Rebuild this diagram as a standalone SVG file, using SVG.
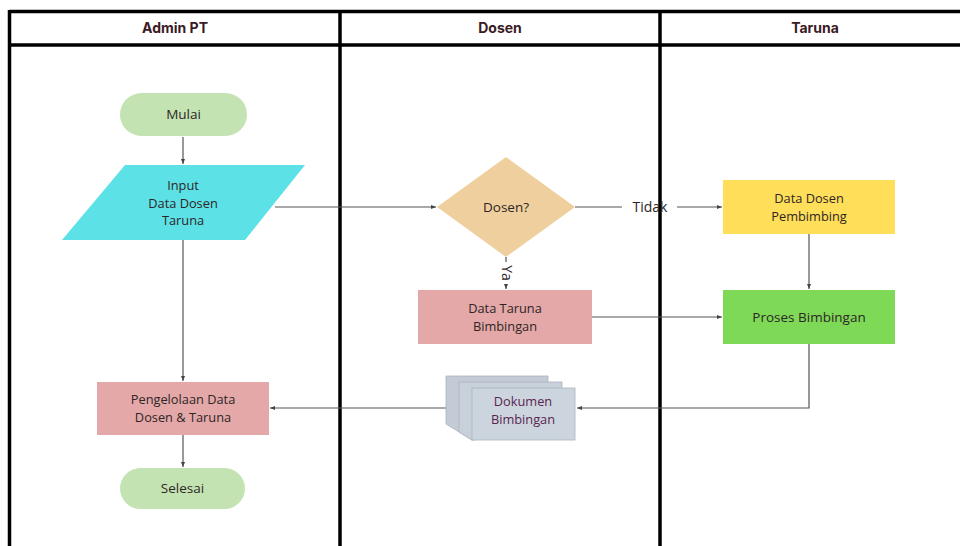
<svg xmlns="http://www.w3.org/2000/svg" width="960" height="546" viewBox="0 0 960 546">
<style>
.lane{stroke:#000;stroke-width:3.5;fill:none}
.hdr{font-family:"Inter","Liberation Sans",sans-serif;font-weight:700;font-size:14px;fill:#3b1a26;text-anchor:middle}
.t{font-family:"Open Sans","Liberation Sans",sans-serif;font-size:12.8px;fill:#2e2626;text-anchor:middle}
.d{font-family:"Open Sans","Liberation Sans",sans-serif;font-size:12.8px;fill:#5a2450;text-anchor:middle}
.c{stroke:#555;stroke-width:1.2;fill:none}
</style>
<defs>
<marker id="ah" markerWidth="6" markerHeight="6" refX="5" refY="3" orient="auto" markerUnits="userSpaceOnUse">
<path d="M0,1 L5,3 L0,5 z" fill="#444"/>
</marker>
</defs>
<rect width="960" height="546" fill="#fff"/>
<g id="lanes">
<line class="lane" x1="9.5" y1="11.5" x2="960" y2="11.5"/>
<line class="lane" x1="9.5" y1="45" x2="960" y2="45"/>
<line class="lane" x1="9.5" y1="10" x2="9.5" y2="546"/>
<line class="lane" x1="340" y1="10" x2="340" y2="546"/>
<line class="lane" x1="660" y1="10" x2="660" y2="546"/>
<text class="hdr" x="175" y="33">Admin PT</text>
<text class="hdr" x="500" y="33">Dosen</text>
<text class="hdr" x="815" y="33">Taruna</text>
</g>
<g id="connectors">
<line class="c" x1="183" y1="137" x2="183" y2="164" marker-end="url(#ah)"/>
<line class="c" x1="275" y1="207" x2="436" y2="207" marker-end="url(#ah)"/>
<line class="c" x1="575" y1="207" x2="622" y2="207"/>
<line class="c" x1="677" y1="207" x2="722" y2="207" marker-end="url(#ah)"/>
<text class="t" x="650" y="212" style="font-size:14px">Tidak</text>
<line class="c" x1="506" y1="257" x2="506" y2="262"/>
<line class="c" x1="506" y1="284" x2="506" y2="289" marker-end="url(#ah)"/>
<text class="t" x="506" y="273" transform="rotate(90 506 273)" dy="4" style="font-size:14px">Ya</text>
<line class="c" x1="809" y1="234" x2="809" y2="289" marker-end="url(#ah)"/>
<line class="c" x1="592" y1="317" x2="722" y2="317" marker-end="url(#ah)"/>
<polyline class="c" points="809,344 809,408 577,408" marker-end="url(#ah)"/>
<line class="c" x1="446" y1="408" x2="270" y2="408" marker-end="url(#ah)"/>
<line class="c" x1="183" y1="240" x2="183" y2="381" marker-end="url(#ah)"/>
<line class="c" x1="183" y1="435" x2="183" y2="467" marker-end="url(#ah)"/>
</g>
<g id="mulai">
<rect x="120" y="93" width="127" height="43" rx="21.5" fill="#c4e3b3"/>
<text class="t" x="183.5" y="119" style="font-size:13.5px">Mulai</text>
</g>
<g id="input">
<polygon points="125,165 305,165 245,240 62,240" fill="#5ce1e6"/>
<text class="t" x="183" y="190">Input</text>
<text class="t" x="183" y="207.5">Data Dosen</text>
<text class="t" x="183" y="225">Taruna</text>
</g>
<g id="dosen">
<polygon points="506,157 575,207 506,257 437,207" fill="#f0cf9e"/>
<text class="t" x="506" y="212" style="font-size:13.5px">Dosen?</text>
</g>
<g id="datadosen">
<rect x="723" y="180" width="172" height="54" fill="#ffde59"/>
<text class="t" x="809" y="203">Data Dosen</text>
<text class="t" x="809" y="220.5">Pembimbing</text>
</g>
<g id="datataruna">
<rect x="418" y="290" width="174" height="54" fill="#e4a8a8"/>
<text class="t" x="505" y="313">Data Taruna</text>
<text class="t" x="505" y="330.5">Bimbingan</text>
</g>
<g id="proses">
<rect x="723" y="290" width="172" height="54" fill="#7ed957"/>
<text class="t" x="809" y="322" style="font-size:13.5px">Proses Bimbingan</text>
</g>
<g id="dokumen">
<polygon points="446,376 548,376 548,424 472,440 446,424" fill="#c3ccd6" stroke="#aab4bf" stroke-width="0.8"/>
<polygon points="459,382 562,382 562,432 472,440 459,432" fill="#c8d1da" stroke="#aab4bf" stroke-width="0.8"/>
<rect x="472" y="388" width="103" height="52" fill="#ccd5de" stroke="#aab4bf" stroke-width="0.8"/>
<text class="d" x="523" y="406">Dokumen</text>
<text class="d" x="523" y="423.5">Bimbingan</text>
</g>
<g id="pengelolaan">
<rect x="97" y="382" width="172" height="53" fill="#e4a8a8"/>
<text class="t" x="183" y="404">Pengelolaan Data</text>
<text class="t" x="183" y="421.5">Dosen &amp; Taruna</text>
</g>
<g id="selesai">
<rect x="120" y="468" width="125" height="41" rx="20.5" fill="#c4e3b3"/>
<text class="t" x="182.5" y="493" style="font-size:13.5px">Selesai</text>
</g>
</svg>
